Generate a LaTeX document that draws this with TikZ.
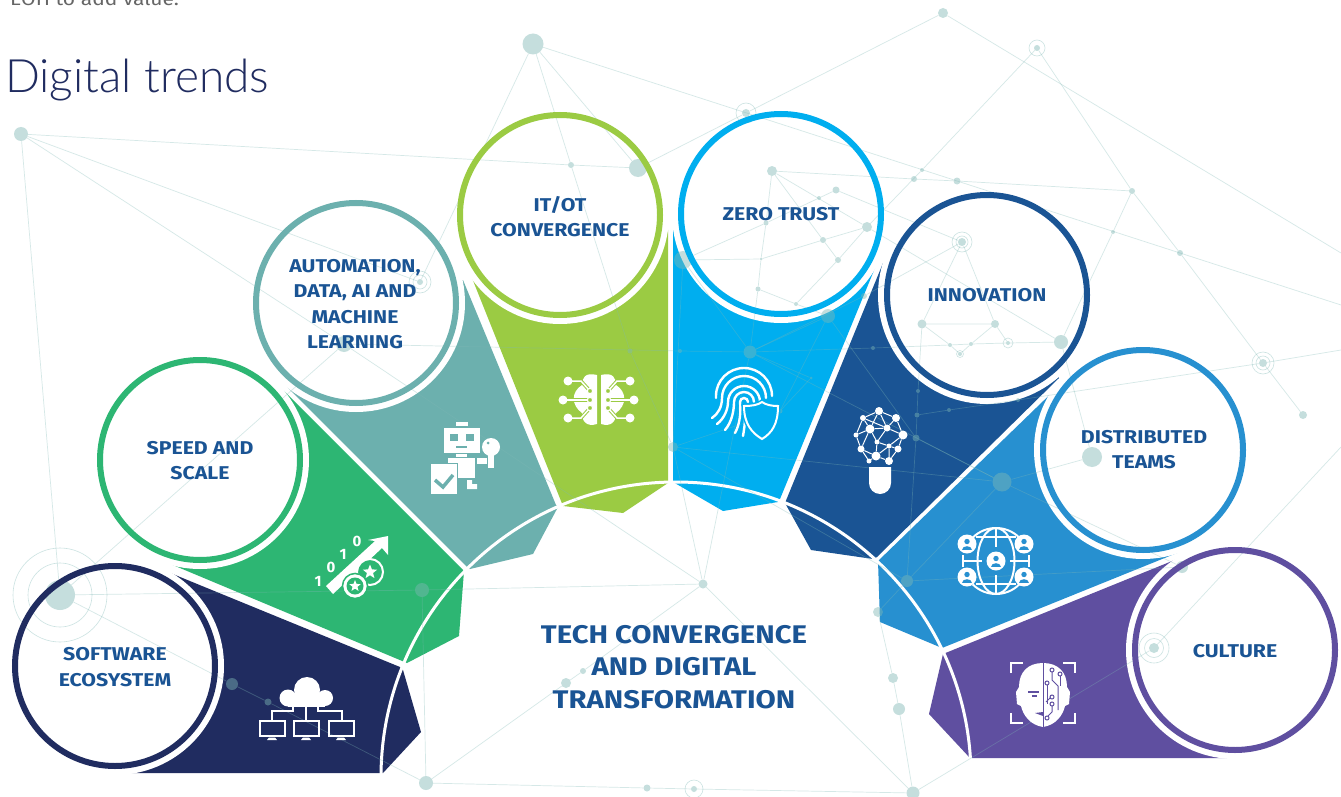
\documentclass[tikz,border=0pt]{standalone}
\usepackage{fontspec}
\setmainfont{Fira Sans}
\newfontfamily\labelfont[FakeStretch=1.15]{Fira Sans}
\newfontfamily\titlefont{Lato Light}
\usetikzlibrary{shapes.geometric}
\definecolor{softnavy}{RGB}{32,44,96}
\definecolor{speedgreen}{RGB}{45,182,115}
\definecolor{autoteal}{RGB}{108,176,174}
\definecolor{itgreen}{RGB}{155,203,67}
\definecolor{zeroblue}{RGB}{0,174,239}
\definecolor{innoblue}{RGB}{26,84,148}
\definecolor{teamblue}{RGB}{39,144,208}
\definecolor{culturepurple}{RGB}{95,79,160}
\definecolor{netcolor}{RGB}{127,184,181}
\tikzstyle{trend} = [circle,line width=6pt,minimum size=200pt,inner sep=0pt]
\tikzstyle{trendtext} = [align=center,text=innoblue,inner sep=0pt,font=\labelfont\bfseries\fontsize{18.5}{25.3}\selectfont]
\tikzstyle{trendcut} = [circle,fill=white,minimum size=218pt,inner sep=0pt]
\tikzstyle{hubline} = [draw=white,line width=3pt]
\tikzstyle{netdot} = [circle,fill=netcolor,fill opacity=.45,inner sep=0pt]
\tikzstyle{netring} = [circle,draw=netcolor,draw opacity=.4,line width=.6pt,inner sep=0pt]
\tikzstyle{netline} = [draw=netcolor,draw opacity=.32,line width=.7pt]
\tikzstyle{iconline} = [draw=white,line width=2pt]
\tikzstyle{iconfill} = [fill=white,draw=none]
\tikzstyle{meshdot} = [circle,fill=white,inner sep=0pt]
\newcommand{\globeperson}[3]{
	\node [circle,fill=white,minimum size=19pt,inner sep=0pt](#1) at (#2,#3){};
	\fill[teamblue] (#2,#3-2.5) circle (2.7pt);
	\fill[teamblue] (#2-5,#3+5.5) .. controls (#2-5,#3+1) and (#2+5,#3+1) .. (#2+5,#3+5.5) -- cycle;
}
\begin{document}
\begin{tikzpicture}[x=1pt,y=-1pt]
	\useasboundingbox (0,0) rectangle (1341,797);
	\fill[white] (0,0) rectangle (1341,797);

	\fill[softnavy] (115,666)--(163,570)--(400,667)--(403,670)--(421,732)--(383,773)--(125,773)--cycle;
	\fill[speedgreen] (200,460)--(283,390)--(464,571)--(459,636)--(407,663)--(168,563)--cycle;
	\fill[autoteal] (356,303)--(287,387)--(467,567)--(470,569)--(533,554)--(558,507)--(556,505)--(463,280)--cycle;
	\fill[itgreen] (560,215)--(472,278)--(563,506)--(623,513)--(668,483)--(668,230)--cycle;
	\fill[zeroblue] (781,214)--(673,230)--(673,482)--(723,511)--(778,502)--(780,499)--(875,268)--cycle;
	\fill[innoblue] (987,295)--(883,263)--(785,503)--(811,550)--(873,559)--(877,557)--(1059,378)--cycle;
	\fill[teamblue] (1143,450)--(1068,377)--(878,561)--(880,622)--(942,648)--(1177,553)--cycle;
	\fill[culturepurple] (1235,650)--(1182,557)--(943,654)--(929,714)--(970,758)--(1227,758)--cycle;

	\node [trendcut](softwarecut) at (115,666){};
	\node [trendcut](speedcut) at (200,460){};
	\node [trendcut](autocut) at (356,303){};
	\node [trendcut](itcut) at (560,215){};
	\node [trendcut](zerocut) at (781,214){};
	\node [trendcut](innocut) at (987,295){};
	\node [trendcut](teamcut) at (1143,450){};
	\node [trendcut](culturecut) at (1235,650){};

	\coordinate (hub) at (676,777);
	\draw[hubline] (hub) ++(180:295pt) arc[start angle=180,end angle=0,radius=295pt];

	\coordinate (e1) at (1341,253);
	\coordinate (e2) at (1341,305);
	\coordinate (e3) at (1341,350);
	\coordinate (e4) at (1341,447);
	\node [netdot,minimum size=14pt](n1) at (21,134){};
	\node [netdot,minimum size=21pt](n2) at (533,44){};
	\node [netdot,minimum size=10pt](n3) at (943,13){};
	\node [netdot,minimum size=6pt](n4) at (1037,48){};
	\node [netdot,minimum size=8pt](n5) at (746,113){};
	\node [netdot,minimum size=18pt](n6) at (638,168){};
	\node [netdot,minimum size=6pt](n7) at (571,165){};
	\node [netdot,minimum size=10pt](n8) at (772,171){};
	\node [netdot,minimum size=6pt](n9) at (914,179){};
	\node [netdot,minimum size=7pt](n10) at (957,181){};
	\node [netdot,minimum size=6pt](n11) at (1132,191){};
	\node [netdot,minimum size=7pt](n12) at (836,190){};
	\node [netdot,minimum size=4pt](n13) at (819,198){};
	\node [netdot,minimum size=4pt](n14) at (922,170){};
	\node [netdot,minimum size=10pt](n15) at (867,227){};
	\node [netdot,minimum size=5pt](n16) at (766,223){};
	\node [netdot,minimum size=6pt](n17) at (823,240){};
	\node [netdot,minimum size=6pt](n18) at (838,260){};
	\node [netdot,minimum size=3pt](n19) at (761,259){};
	\node [netdot,minimum size=5pt](n20) at (758,289){};
	\node [netdot,minimum size=4pt](n21) at (796,304){};
	\node [netdot,minimum size=6pt](n22) at (864,296){};
	\node [netdot,minimum size=14pt](n23) at (828,316){};
	\node [netdot,minimum size=13pt](n24) at (750,352){};
	\node [netdot,minimum size=8pt](n25) at (962,242){};
	\node [netdot,minimum size=4pt](n26) at (1113,232){};
	\node [netdot,minimum size=6pt](n27) at (1180,253){};
	\node [netdot,minimum size=9pt](n28) at (922,324){};
	\node [netdot,minimum size=8pt](n29) at (995,324){};
	\node [netdot,minimum size=14pt](n30) at (1061,342){};
	\node [netdot,minimum size=4pt](n31) at (1008,343){};
	\node [netdot,minimum size=4pt](n32) at (950,345){};
	\node [netdot,minimum size=4pt](n33) at (971,344){};
	\node [netdot,minimum size=4pt](n34) at (960,354){};
	\node [netdot,minimum size=4pt](n35) at (873,348){};
	\node [netdot,minimum size=8pt](n36) at (1263,363){};
	\node [netdot,minimum size=8pt](n37) at (1303,415){};
	\node [netdot,minimum size=20pt](n38) at (1092,457){};
	\node [netdot,minimum size=19pt](n39) at (1002,482){};
	\node [netdot,minimum size=10pt](n40) at (673,447){};
	\node [netdot,minimum size=18pt](n41) at (683,260){};
	\node [netdot,minimum size=16pt](n42) at (344,344){};
	\node [netdot,minimum size=6pt](n43) at (420,282){};
	\node [netdot,minimum size=30pt](n44) at (60,595){};
	\node [netdot,minimum size=12pt](n45) at (232,684){};
	\node [netdot,minimum size=7pt](n46) at (268,702){};
	\node [netdot,minimum size=14pt](n47) at (422,590){};
	\node [netdot,minimum size=14pt](n48) at (426,783){};
	\node [netdot,minimum size=7pt](n49) at (647,788){};
	\node [netdot,minimum size=6pt](n50) at (694,789){};
	\node [netdot,minimum size=13pt](n51) at (913,793){};
	\node [netdot,minimum size=12pt](n52) at (899,709){};
	\node [netdot,minimum size=10pt](n53) at (893,678){};
	\node [netdot,minimum size=9pt](n54) at (703,584){};
	\node [netdot,minimum size=10pt](n55) at (1154,648){};
	\node [netdot,minimum size=12pt](n56) at (1182,567){};
	\node [netdot,minimum size=12pt](n57) at (907,581){};
	\node [netdot,minimum size=6pt](n58) at (583,671){};
	\node [netdot,minimum size=10pt](n59) at (566,683){};
	\node [netdot,minimum size=10pt](n60) at (878,612){};
	\node [netdot,minimum size=7pt](n61) at (916,438){};
	\node [netdot,minimum size=5pt](n62) at (917,415){};
	\node [netdot,minimum size=4pt](n63) at (918,391){};
	\node [netdot,minimum size=4pt](n64) at (949,410){};
	\node [netdot,minimum size=4pt](n65) at (1018,400){};
	\node [netdot,minimum size=5pt](n66) at (630,351){};
	\node [netdot,minimum size=4pt](n67) at (680,351){};
	\node [netdot,minimum size=5pt](n68) at (780,411){};
	\node [netdot,minimum size=3pt](n69) at (811,378){};

	\node [netring,minimum size=16pt](r4) at (n4){};
	\node [netring,minimum size=20pt](r5) at (n5){};
	\node [netring,minimum size=20pt](r25) at (n25){};
	\node [netring,minimum size=12pt](r25b) at (n25){};
	\node [netring,minimum size=10pt](r31) at (n31){};
	\node [netring,minimum size=7pt](r34) at (n34){};
	\node [netring,minimum size=22pt](r36) at (n36){};
	\node [netring,minimum size=14pt](r36b) at (n36){};
	\node [netring,minimum size=22pt](r43) at (n43){};
	\node [netring,minimum size=14pt](r43b) at (n43){};
	\node [netring,minimum size=64pt](r44) at (n44){};
	\node [netring,minimum size=94pt](r44b) at (n44){};
	\node [netring,minimum size=18pt](r50) at (n50){};
	\node [netring,minimum size=30pt](r55) at (n55){};
	\node [netring,minimum size=19pt](r55b) at (n55){};

	\draw[netline](n1)--(n7)--(n6);
	\draw[netline](n1)--(n44);
	\draw[netline](n1)--(n42);
	\draw[netline](n1)--(n43);
	\draw[netline](n2)--(n7)--(n66);
	\draw[netline](n2)--(n6)--(n5);
	\draw[netline](n2)--(n43);
	\draw[netline](n2)--(e2);
	\draw[netline](n3)--(n5);
	\draw[netline](n3)--(e1);
	\draw[netline](n4)--(n11)--(n27)--(n36)--(n37);
	\draw[netline](n4)--(n14)--(n15)--(n30);
	\draw[netline](n36)--(e3);
	\draw[netline](n36)--(n65);
	\draw[netline](n8)--(n9)--(n10)--(n11)--(n26)--(n30);
	\draw[netline](n8)--(n15);
	\draw[netline](n8)--(n17)--(n18);
	\draw[netline](n8)--(n16)--(n19)--(n20)--(n24);
	\draw[netline](n12)--(n13)--(n16)--(n41)--(n24);
	\draw[netline](n12)--(n25);
	\draw[netline](n15)--(n17)--(n19)--(n41);
	\draw[netline](n15)--(n18)--(n21)--(n20);
	\draw[netline](n21)--(n23)--(n24);
	\draw[netline](n22)--(n24);
	\draw[netline](n25)--(n22);
	\draw[netline](n25)--(n28)--(n29)--(n25);
	\draw[netline](n28)--(n32)--(n34);
	\draw[netline](n29)--(n33)--(n34);
	\draw[netline](n29)--(n31);
	\draw[netline](n24)--(n35)--(n32)--(n33)--(n31)--(n30);
	\draw[netline](n44)--(n45)--(n46)--(n48);
	\draw[netline](n44)--(n47)--(n54)--(n40);
	\draw[netline](n44)--(n42)--(n54);
	\draw[netline](n42)--(n67)--(n24);
	\draw[netline](n47)--(n48)--(n49)--(n50)--(n51);
	\draw[netline](n48)--(n59)--(n58)--(n54)--(n51);
	\draw[netline](n54)--(n24);
	\draw[netline](n60)--(n53)--(n52)--(n51)--(n55)--(e4);
	\draw[netline](n57)--(n56)--(n39)--(n38)--(n30);
	\draw[netline](n57)--(n39)--(n24);
	\draw[netline](n57)--(n60);
	\draw[netline](n57)--(n40)--(n39);
	\draw[netline](n57)--(n61)--(n62)--(n63)--(n28);
	\draw[netline](n62)--(n64)--(n65);
	\draw[netline](n23)--(n61)--(n39);
	\draw[netline](n66)--(n40)--(n41);
	\draw[netline](n24)--(n69)--(n68)--(n40);
	\draw[netline](n68)--(n23);

	\node [trend,draw=softnavy](software) at (115,666){};
	\node [trend,draw=speedgreen](speed) at (200,460){};
	\node [trend,draw=autoteal](auto) at (356,303){};
	\node [trend,draw=itgreen](itot) at (560,215){};
	\node [trend,draw=zeroblue](zero) at (781,214){};
	\node [trend,draw=innoblue](inno) at (987,295){};
	\node [trend,draw=teamblue](team) at (1143,450){};
	\node [trend,draw=culturepurple](culture) at (1235,650){};

	\node [trendtext](softwaretext) at (115,667){SOFTWARE\\ECOSYSTEM};
	\node [trendtext](speedtext) at (200,460.5){SPEED AND\\SCALE};
	\node [trendtext](autotext) at (355,304){AUTOMATION,\\DATA, AI AND\\MACHINE\\LEARNING};
	\node [trendtext](itottext) at (560,216.5){IT/OT\\CONVERGENCE};
	\node [trendtext](zerotext) at (781,214){ZERO TRUST};
	\node [trendtext](innotext) at (987,295.5){INNOVATION};
	\node [trendtext](teamtext) at (1144,449.5){DISTRIBUTED\\TEAMS};
	\node [trendtext](culturetext) at (1235,651.5){CULTURE};

	\node [text=innoblue,align=center,font=\labelfont\bfseries\fontsize{25.5}{32.5}\selectfont](hubtext) at (674,667){TECH CONVERGENCE\\AND DIGITAL\\TRANSFORMATION};
	\node [text=softnavy,anchor=west,inner sep=0pt,font=\titlefont\fontsize{46}{50}\selectfont](title) at (5,80){Digital trends};
	\node [text=black!60,anchor=base west,inner sep=0pt,font=\labelfont\fontsize{18.3}{22}\selectfont](cuttext) at (10,6){EOH to add value.};

	\fill[iconfill] (307,690) circle (13pt);
	\fill[iconfill] (288,698) circle (8.5pt);
	\fill[iconfill] (325,698) circle (8pt);
	\fill[iconfill] (288,695) rectangle (325,706.5);
	\draw[iconline] (306,707)--(306,720);
	\draw[iconline] (293,707)--(293,711)--(272,711)--(272,720);
	\draw[iconline] (318,707)--(318,711)--(342,711)--(342,720);
	\draw[iconline] (259.5,721) rectangle (284.5,735.5);
	\draw[iconline] (294,721) rectangle (318.5,735.5);
	\draw[iconline] (329,721) rectangle (353.5,735.5);
	\fill[iconfill] (267,740)--(269,737.5)--(275,737.5)--(277,740)--cycle;
	\fill[iconfill] (301,740)--(303,737.5)--(309,737.5)--(311,740)--cycle;
	\fill[iconfill] (336,740)--(338,737.5)--(344,737.5)--(346,740)--cycle;

	\fill[iconfill] (326,586)--(333,594)--(382,548)--(388,555)--(388,536)--(368,540)--(375,541)--cycle;
	\draw[draw=white,fill=speedgreen,line width=2pt] (370,572) circle (13pt);
	\node [star,star points=5,star point ratio=2.3,fill=white,minimum size=15pt,inner sep=0pt](starbig) at (370,572){};
	\draw[draw=speedgreen,fill=white,line width=1.5pt] (355,586) circle (12.5pt);
	\fill[speedgreen] (355,586) circle (8.5pt);
	\node [star,star points=5,star point ratio=2.3,fill=white,minimum size=12pt,inner sep=0pt](starsmall) at (355,586){};
	\node [text=white,font=\bfseries\fontsize{15}{15}\selectfont](d1) at (318,581){1};
	\node [text=white,font=\bfseries\fontsize{15}{15}\selectfont](d2) at (331,567){0};
	\node [text=white,font=\bfseries\fontsize{15}{15}\selectfont](d3) at (343,554){1};
	\node [text=white,font=\bfseries\fontsize{15}{15}\selectfont](d4) at (357,541){0};

	\fill[iconfill] (456,422) rectangle (468,426);
	\fill[iconfill] (444,428) rectangle (479.5,453);
	\fill[autoteal] (449.5,434) rectangle (457.5,441);
	\fill[autoteal] (466,434) rectangle (474,441);
	\fill[autoteal] (456,446) rectangle (467,448);
	\fill[iconfill] (456,454) rectangle (467,457);
	\fill[iconfill] (448,458) rectangle (475,478);
	\fill[iconfill] (477,458) rectangle (487,464);
	\fill[iconfill] (491,447) circle (9pt);
	\fill[autoteal] (488,443) circle (1.5pt);
	\fill[iconfill] (488,453) rectangle (494,468);
	\fill[iconfill] (467,480)--(472,480)--(472,484)--(477,484)--(477,489)--(467,489)--cycle;
	\draw[draw=autoteal,fill=white,line width=1pt] (430.5,463.5) rectangle (457.5,494.5);
	\draw[draw=autoteal,line width=3.5pt] (435,480)--(443,487)--(453,475);

	\fill[iconfill] (597,375) .. controls (585,372) and (582,378) .. (582,385) .. controls (571,392) and (571,405) .. (582,413) .. controls (582,422) and (587,427) .. (597,424) -- cycle;
	\fill[iconfill] (601,375) .. controls (613,372) and (616,378) .. (616,385) .. controls (627,392) and (627,405) .. (616,413) .. controls (616,422) and (611,427) .. (601,424) -- cycle;
	\draw[draw=itgreen,line width=3.5pt] (575,381)--(581,381)--(590,391);
	\draw[draw=itgreen,line width=3.5pt] (570,400)--(590,400);
	\draw[draw=itgreen,line width=3.5pt] (575,418)--(581,418)--(590,408);
	\draw[draw=itgreen,line width=3.5pt] (623,381)--(617,381)--(608,391);
	\draw[draw=itgreen,line width=3.5pt] (628,400)--(608,400);
	\draw[draw=itgreen,line width=3.5pt] (623,418)--(617,418)--(608,408);
	\draw[draw=white,line width=1.5pt] (568,381)--(581,381)--(590,391);
	\draw[draw=white,line width=1.5pt] (563,400)--(590,400);
	\draw[draw=white,line width=1.5pt] (568,418)--(581,418)--(590,408);
	\draw[draw=white,line width=1.5pt] (630,381)--(617,381)--(608,391);
	\draw[draw=white,line width=1.5pt] (634,400)--(608,400);
	\draw[draw=white,line width=1.5pt] (630,418)--(617,418)--(608,408);
	\node [meshdot,minimum size=9pt](bl1) at (568,381){};
	\node [meshdot,minimum size=9pt](bl2) at (563,400){};
	\node [meshdot,minimum size=9pt](bl3) at (568,418){};
	\node [meshdot,minimum size=9pt](br1) at (630,381){};
	\node [meshdot,minimum size=9pt](br2) at (634,400){};
	\node [meshdot,minimum size=9pt](br3) at (630,418){};
	\draw[draw=white,fill=itgreen,line width=1.2pt] (590,391) circle (2.7pt);
	\draw[draw=white,fill=itgreen,line width=1.2pt] (590,400) circle (2.7pt);
	\draw[draw=white,fill=itgreen,line width=1.2pt] (590,408) circle (2.7pt);
	\draw[draw=white,fill=itgreen,line width=1.2pt] (608,391) circle (2.7pt);
	\draw[draw=white,fill=itgreen,line width=1.2pt] (608,400) circle (2.7pt);
	\draw[draw=white,fill=itgreen,line width=1.2pt] (608,408) circle (2.7pt);

	\draw[iconline,line width=2.4pt,line cap=round] (772,396) arc[start angle=0,end angle=180,radius=28pt]--(716,398);
	\draw[iconline,line width=2.4pt,line cap=round] (766,398) arc[start angle=0,end angle=180,radius=22pt] .. controls (722,407) and (718,414) .. (712,418);
	\draw[iconline,line width=2.4pt,line cap=round] (760,402) arc[start angle=0,end angle=180,radius=16pt] .. controls (728,408) and (725,418) .. (717,424);
	\draw[iconline,line width=2.4pt,line cap=round] (754,402) arc[start angle=0,end angle=180,radius=10pt] .. controls (734,410) and (732,422) .. (725,430);
	\draw[iconline,line width=2.4pt,line cap=round] (748,402) arc[start angle=0,end angle=180,radius=4pt] .. controls (741,412) and (740,424) .. (735,433);
	\draw[iconline,line width=2.4pt,line cap=round] (745,418) .. controls (745,424) and (744,430) .. (743,436);
	\draw[draw=zeroblue,line width=5pt,fill=zeroblue] (744,406) .. controls (752,406) and (758,405) .. (762,402) .. controls (766,405) and (772,406) .. (778,406) .. controls (778,424) and (772,433) .. (762,439) .. controls (752,433) and (744,424) .. (744,406) -- cycle;
	\draw[iconline,fill=zeroblue] (744,406) .. controls (752,406) and (758,405) .. (762,402) .. controls (766,405) and (772,406) .. (778,406) .. controls (778,424) and (772,433) .. (762,439) .. controls (752,433) and (744,424) .. (744,406) -- cycle;

	\node [meshdot,minimum size=8pt](b1) at (879,411){};
	\node [meshdot,minimum size=8pt](b2) at (896,418){};
	\node [meshdot,minimum size=6pt](b3) at (863,418){};
	\node [meshdot,minimum size=9pt](b4) at (903,435){};
	\node [meshdot,minimum size=9pt](b5) at (870,429){};
	\node [meshdot,minimum size=7pt](b6) at (887,428){};
	\node [meshdot,minimum size=5pt](b7) at (856,435){};
	\node [meshdot,minimum size=7pt](b8) at (861,449){};
	\node [meshdot,minimum size=5pt](b9) at (877,442){};
	\node [meshdot,minimum size=5pt](b10) at (889,446){};
	\node [meshdot,minimum size=7pt](b11) at (898,449){};
	\node [meshdot,minimum size=9pt](b12) at (876,456){};
	\node [meshdot,minimum size=8pt](b13) at (889,461){};
	\node [meshdot,minimum size=5pt](b14) at (869,461){};
	\draw[draw=white,line width=1pt](b1)--(b2)--(b4)--(b11)--(b13)--(b12)--(b14)--(b8)--(b7)--(b3)--(b1);
	\draw[draw=white,line width=1pt](b3)--(b5)--(b1)--(b6)--(b2);
	\draw[draw=white,line width=1pt](b7)--(b5)--(b6)--(b4)--(b10)--(b11);
	\draw[draw=white,line width=1pt](b5)--(b9)--(b6);
	\draw[draw=white,line width=1pt](b8)--(b5);
	\draw[draw=white,line width=1pt](b8)--(b12)--(b9)--(b10)--(b13);
	\draw[draw=white,line width=1pt](b10)--(b12);
	\draw[draw=white,line width=1pt](b3)--(b6);
	\fill[iconfill] (869,467)--(891,467)--(891,483) arc[start angle=0,end angle=-180,radius=11pt]--cycle;

	\draw[iconline] (996,561) ++(135:33pt) arc[start angle=135,end angle=45,radius=33pt];
	\draw[iconline] (996,561) ++(225:33pt) arc[start angle=225,end angle=315,radius=33pt];
	\draw[iconline] (996,561) ellipse (18.5pt and 33pt);
	\draw[iconline] (996,528)--(996,594);
	\draw[iconline] (963,561)--(1029,561);
	\draw[iconline] (963,555)--(963,567);
	\draw[iconline] (1029,555)--(1029,567);
	\draw[iconline] (976,537)--(1016,537);
	\draw[iconline] (976,584)--(1016,584);
	\fill[teamblue] (996,561) circle (14pt);
	\globeperson{g1}{967}{544}
	\globeperson{g2}{1024}{544}
	\globeperson{g3}{967}{577}
	\globeperson{g4}{1024}{577}
	\globeperson{g5}{996}{561}

	\draw[iconline] (1011,673)--(1011,663)--(1023,663);
	\draw[iconline] (1063,663)--(1075,663)--(1075,673);
	\draw[iconline] (1011,713)--(1011,723)--(1023,723);
	\draw[iconline] (1063,723)--(1075,723)--(1075,713);
	\fill[iconfill] (1043,663) .. controls (1028,663) and (1019,672) .. (1019,687) -- (1016,692) -- (1017,704) -- (1021,706) .. controls (1023,715) and (1030,725) .. (1043,727) .. controls (1056,725) and (1063,715) .. (1065,706) -- (1069,704) -- (1070,692) -- (1067,687) .. controls (1067,672) and (1058,663) .. (1043,663) -- cycle;
	\fill[culturepurple] (1028,691) rectangle (1039,692.5);
	\fill[culturepurple] (1032,695) rectangle (1037,697);
	\fill[culturepurple] (1035,713) -- (1043,712) -- (1043,716) -- cycle;
	\draw[draw=culturepurple,line width=.9pt] (1043,663)--(1043,727);
	\draw[draw=culturepurple,line width=1pt] (1052,672)--(1052,680)--(1058,686)--(1058,710);
	\draw[draw=culturepurple,line width=1pt] (1060,676)--(1060,686);
	\draw[draw=culturepurple,line width=1pt] (1047,685)--(1047,704);
	\draw[draw=culturepurple,line width=1pt] (1050,698)--(1046,702);
	\draw[draw=culturepurple,line width=1pt] (1052,706)--(1052,712)--(1048,716);
	\draw[draw=culturepurple,fill=white,line width=1pt] (1052,670) circle (2pt);
	\draw[draw=culturepurple,fill=white,line width=1pt] (1060,674) circle (2pt);
	\draw[draw=culturepurple,fill=white,line width=1pt] (1047,683) circle (2pt);
	\draw[draw=culturepurple,fill=white,line width=1pt] (1052,697) circle (2pt);
	\draw[draw=culturepurple,fill=white,line width=1pt] (1052,704) circle (2pt);
	\draw[draw=culturepurple,fill=white,line width=1pt] (1047,718) circle (2pt);
\end{tikzpicture}
\end{document}
